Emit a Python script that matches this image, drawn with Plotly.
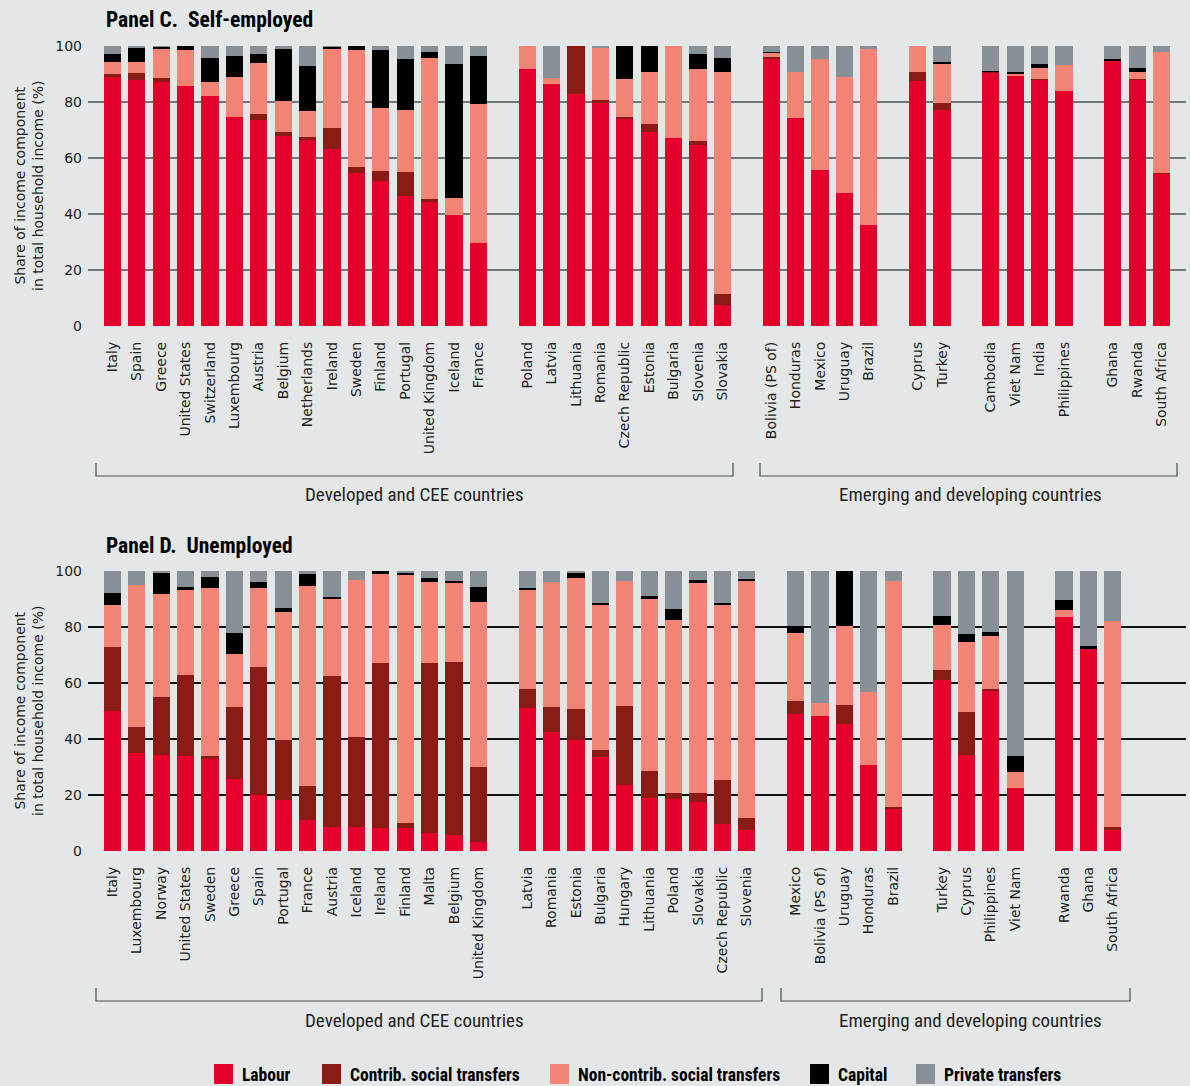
import plotly.graph_objects as go

W, H = 1190, 1086

components = ["Labour", "Contrib. social transfers", "Non-contrib. social transfers",
              "Capital", "Private transfers"]
colors = ["#e4002b", "#8a1b15", "#f28475", "#000000", "#869096"]

# ---------------- Panel C: Self-employed ----------------
c_groups = [
    ["Italy", "Spain", "Greece", "United States", "Switzerland", "Luxembourg", "Austria",
     "Belgium", "Netherlands", "Ireland", "Sweden", "Finland", "Portugal",
     "United Kingdom", "Iceland", "France"],
    ["Poland", "Latvia", "Lithuania", "Romania", "Czech Republic", "Estonia", "Bulgaria",
     "Slovenia", "Slovakia"],
    ["Bolivia (PS of)", "Honduras", "Mexico", "Uruguay", "Brazil"],
    ["Cyprus", "Turkey"],
    ["Cambodia", "Viet Nam", "India", "Philippines"],
    ["Ghana", "Rwanda", "South Africa"],
]
c_labour = [88.9, 87.7, 87.0, 85.6, 82.0, 74.5, 73.5, 67.9, 66.3, 63.1, 54.5, 51.7, 46.3, 44.5, 39.5, 29.5,
            91.7, 86.3, 82.7, 79.5, 74.2, 69.2, 67.0, 64.5, 7.4,
            95.6, 74.2, 55.6, 47.4, 36.0,
            87.4, 77.0,
            90.4, 89.2, 87.9, 83.8,
            94.9, 87.9, 54.3]
c_contrib = [1.1, 2.7, 1.5, 0, 0, 0, 2.1, 1.3, 1.2, 7.5, 2.2, 3.5, 8.6, 0.7, 0, 0,
             0, 0, 17.3, 1.1, 0.3, 2.8, 0, 1.5, 3.9,
             0.5, 0, 0, 0, 0,
             3.2, 2.5,
             0.4, 0, 0.3, 0,
             0, 0.3, 0.3]
c_noncontrib = [4.2, 3.9, 10.3, 12.9, 5.0, 14.3, 18.2, 11.0, 9.2, 28.2, 41.8, 22.5, 22.1, 50.4, 6.1, 49.7,
                8.3, 2.2, 0, 19.0, 13.6, 18.6, 33.0, 25.7, 79.3,
                1.4, 16.4, 39.6, 41.4, 62.8,
                9.4, 14.3,
                0, 1.0, 3.8, 9.3,
                0, 2.4, 43.1]
c_capital = [2.8, 5.0, 1.0, 1.5, 8.6, 7.5, 3.2, 18.6, 16.0, 1.0, 1.5, 20.8, 18.2, 2.1, 47.9, 17.1,
             0, 0, 0, 0, 11.9, 9.4, 0, 5.3, 5.0,
             0.4, 0, 0, 0, 0,
             0, 0.4,
             0.3, 0.4, 1.5, 0,
             0.3, 1.4, 0]
c_private = [3.0, 0.7, 0.2, 0, 4.4, 3.7, 3.0, 1.2, 7.3, 0.2, 0, 1.5, 4.8, 2.3, 6.5, 3.7,
             0, 11.5, 0, 0.4, 0, 0, 0, 3.0, 4.4,
             2.1, 9.4, 4.8, 11.2, 1.2,
             0, 5.8,
             8.9, 9.4, 6.5, 6.9,
             4.8, 8.0, 2.3]

# ---------------- Panel D: Unemployed ----------------
d_groups = [
    ["Italy", "Luxembourg", "Norway", "United States", "Sweden", "Greece", "Spain", "Portugal",
     "France", "Austria", "Iceland", "Ireland", "Finland", "Malta", "Belgium", "United Kingdom"],
    ["Latvia", "Romania", "Estonia", "Bulgaria", "Hungary", "Lithuania", "Poland", "Slovakia",
     "Czech Republic", "Slovenia"],
    ["Mexico", "Bolivia (PS of)", "Uruguay", "Honduras", "Brazil"],
    ["Turkey", "Cyprus", "Philippines", "Viet Nam"],
    ["Rwanda", "Ghana", "South Africa"],
]
d_labour = [49.9, 34.9, 34.2, 33.8, 32.7, 25.6, 19.9, 18.1, 11.0, 8.5, 8.5, 8.1, 8.1, 6.3, 5.6, 3.1,
            51.0, 42.4, 39.5, 33.5, 23.5, 18.8, 18.5, 17.4, 9.5, 7.4,
            48.8, 48.1, 45.2, 30.6, 15.2,
            61.0, 34.2, 57.4, 22.4,
            83.5, 72.4, 7.4]
d_contrib = [22.8, 9.3, 20.7, 28.9, 1.1, 25.7, 45.7, 21.4, 12.1, 53.9, 32.1, 58.9, 1.8, 60.7, 61.8, 26.8,
             6.8, 8.9, 11.1, 2.5, 28.2, 9.6, 2.1, 3.2, 15.7, 4.3,
             4.6, 0, 6.8, 0, 0.5,
             3.6, 15.4, 0.4, 0,
             0, 0, 1.1]
d_noncontrib = [15.0, 50.7, 36.8, 30.8, 60.0, 18.9, 28.2, 45.7, 71.4, 27.8, 56.1, 31.8, 88.6, 29.0, 28.6, 58.9,
                35.7, 44.7, 46.8, 52.1, 44.6, 61.8, 61.8, 75.4, 62.9, 85.0,
                24.3, 4.6, 28.2, 26.1, 80.6,
                16.1, 25.0, 19.0, 5.7,
                2.5, 0, 73.8]
d_capital = [4.3, 0, 7.8, 0.7, 3.9, 7.5, 2.2, 1.5, 4.3, 0.4, 0, 1.2, 0.8, 1.4, 0.3, 5.4,
             0.3, 0, 1.9, 0.4, 0, 0.7, 3.9, 0.7, 0.4, 0.3,
             2.5, 0, 19.8, 0, 0,
             3.2, 2.9, 1.4, 5.7,
             3.6, 0.7, 0]
d_private = [8.0, 5.1, 0.5, 5.8, 2.3, 22.3, 4.0, 13.3, 1.2, 9.4, 3.3, 0, 0.7, 2.6, 3.7, 5.8,
             6.2, 4.0, 0.7, 11.5, 3.7, 9.0, 13.7, 3.3, 11.5, 3.0,
             19.8, 47.3, 0, 43.3, 3.7,
             16.2, 22.6, 21.9, 66.2,
             10.5, 26.9, 17.6]

y_ticks = [0, 20, 40, 60, 80, 100]


def slots(groups):
    """Categorical slot index for each country, one empty slot between groups."""
    pos, names, i = [], [], 0
    for g in groups:
        for n in g:
            pos.append(i)
            names.append(n)
            i += 1
        i += 1
    return pos, names


def px(x):
    return x / W


def py(y):
    return 1 - y / H


BG = "#e3e7e8"
TICK_FONT = dict(family="DejaVu Sans", size=14, color="#231f20")
COND = "Roboto Condensed, Roboto, sans-serif"

fig = go.Figure()

c_pos, c_names = slots(c_groups)
d_pos, d_names = slots(d_groups)
c_series = [c_labour, c_contrib, c_noncontrib, c_capital, c_private]
d_series = [d_labour, d_contrib, d_noncontrib, d_capital, d_private]

for name, col, vals in zip(components, colors, c_series):
    fig.add_trace(go.Bar(x=c_pos, y=vals, name=name, marker=dict(color=col, line=dict(width=0)),
                         width=0.7, xaxis="x", yaxis="y", showlegend=False,
                         hovertext=c_names))
for name, col, vals in zip(components, colors, d_series):
    fig.add_trace(go.Bar(x=d_pos, y=vals, name=name, marker=dict(color=col, line=dict(width=0)),
                         width=0.7, xaxis="x2", yaxis="y2", showlegend=False,
                         hovertext=d_names))

xdom = [px(88), px(1186)]
common_x = dict(range=[-1, 44], tickmode="array", tickangle=-90, tickfont=TICK_FONT,
                showgrid=False, zeroline=False, showline=False, ticks="",
                ticklabelstandoff=12, fixedrange=True, automargin=False)
common_y = dict(range=[0, 100], tickvals=y_ticks, tickfont=TICK_FONT, zeroline=False,
                showline=False, ticks="", gridwidth=1.6, ticklabelstandoff=5,
                automargin=False, fixedrange=True)

fig.update_layout(
    width=W, height=H, paper_bgcolor=BG, plot_bgcolor=BG, barmode="stack", bargap=0,
    margin=dict(l=0, r=0, t=0, b=0, pad=0), autosize=False,
    xaxis=dict(domain=xdom, anchor="y", tickvals=c_pos, ticktext=c_names, **common_x),
    yaxis=dict(domain=[py(326), py(46)], anchor="x", gridcolor="#6f777b", **common_y),
    xaxis2=dict(domain=xdom, anchor="y2", tickvals=d_pos, ticktext=d_names, **common_x),
    yaxis2=dict(domain=[py(851), py(571)], anchor="x2", gridcolor="#111111", **common_y),
)

# Panel titles
for txt, y in [("Panel C.  Self-employed", 20), ("Panel D.  Unemployed", 545)]:
    fig.add_annotation(text=txt, xref="paper", yref="paper", x=px(104), y=py(y),
                       xanchor="left", yanchor="middle", showarrow=False,
                       font=dict(family=COND, size=21.5, color="#000000", weight="bold"))

# Y-axis titles
for yc in [186, 711]:
    fig.add_annotation(text="Share of income component<br>in total household income (%)",
                       xref="paper", yref="paper", x=px(29), y=py(yc), textangle=-90,
                       xanchor="center", yanchor="middle", showarrow=False,
                       font=dict(family="DejaVu Sans", size=14, color="#231f20"))

# Group brackets and labels
brackets = [
    (96, 733, 463, 476, "Developed and CEE countries", 414, 494),
    (760, 1177, 463, 476, "Emerging and developing countries", 970, 494),
    (96, 762, 988, 1001, "Developed and CEE countries", 414, 1020),
    (781, 1130, 988, 1001, "Emerging and developing countries", 970, 1020),
]
for x1, x2, yt, yb, label, tx, ty in brackets:
    fig.add_shape(type="path", xref="paper", yref="paper",
                  path=f"M {px(x1)},{py(yt)} L {px(x1)},{py(yb)} L {px(x2)},{py(yb)} L {px(x2)},{py(yt)}",
                  line=dict(color="#4a4f52", width=1.2))
    fig.add_annotation(text=label, xref="paper", yref="paper", x=px(tx), y=py(ty),
                       xanchor="center", yanchor="middle", showarrow=False,
                       font=dict(family=COND, size=19, color="#231f20"))

# Legend (drawn manually)
legend_x = [214, 322, 550, 810, 916]
for name, col, lx in zip(components, colors, legend_x):
    fig.add_shape(type="rect", xref="paper", yref="paper",
                  x0=px(lx), x1=px(lx + 19), y0=py(1084), y1=py(1064),
                  fillcolor=col, line=dict(width=0))
    fig.add_annotation(text=name, xref="paper", yref="paper", x=px(lx + 26), y=py(1075),
                       xanchor="left", yanchor="middle", showarrow=False,
                       font=dict(family=COND, size=17.5, color="#000000", weight="bold"))

fig.write_html("out.html", config={"displayModeBar": False},
               post_script="document.body.style.margin='0';")
